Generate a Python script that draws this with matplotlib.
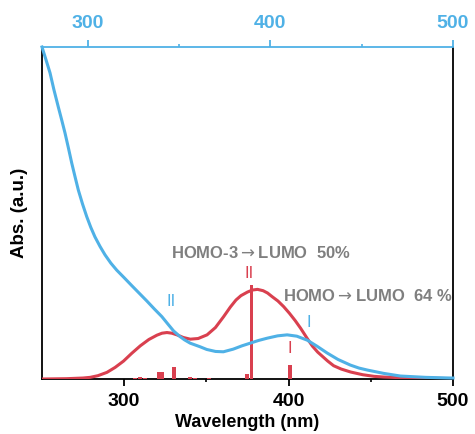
import matplotlib
matplotlib.use('Agg')
import matplotlib.pyplot as plt
from matplotlib.ticker import FixedLocator

plt.rcParams['font.family'] = ['Liberation Sans', 'DejaVu Sans']
plt.rcParams['mathtext.fontset'] = 'dejavusans'

# Calculated spectrum (bottom axis, nm) and normalized absorbance
calc_wl = [250, 265, 275, 279.3, 284, 289.5, 294.5, 299.6, 304.5, 309.8, 315, 319.9, 323,
           326.0, 329, 332.1, 336, 340.2, 345, 350.4, 355.5, 360.5, 364.6, 368, 371, 375,
           378, 381.1, 384.5, 387.2, 390, 393.5, 397, 400.5, 404, 407.3, 411.6, 414.5,
           417.7, 423.8, 427.4, 432, 437.8, 445, 452, 457.9, 468, 478.7, 490, 500]
calc_abs = [0.0, 0.001, 0.003, 0.005, 0.010, 0.020, 0.035, 0.054, 0.077, 0.100, 0.119, 0.132, 0.138,
            0.140, 0.138, 0.133, 0.125, 0.120, 0.122, 0.133, 0.155, 0.188, 0.217, 0.238, 0.251, 0.262,
            0.268, 0.270, 0.266, 0.259, 0.248, 0.235, 0.218, 0.198, 0.176, 0.153, 0.120, 0.099,
            0.081, 0.054, 0.040, 0.030, 0.021, 0.013, 0.008, 0.006, 0.004, 0.003, 0.002, 0.001]

# Oscillator strength sticks (bottom axis)
stick_wl = [306.7, 309.8, 312.8, 321.0, 323.2, 330.5, 340.2, 343.0, 351.5, 374.7, 377.5, 401.0]
stick_f = [0.004, 0.006, 0.004, 0.022, 0.020, 0.035, 0.006, 0.003, 0.002, 0.015, 0.283, 0.042]

# Experimental spectrum (top axis, nm)
exp_wl = [275.0, 277.0, 279.4, 281.5, 283.9, 285.8, 287.6, 289.5, 291.3, 293.1, 294.9, 297.2,
          299.5, 301.7, 304.0, 306.8, 309.5, 312.7, 315.9, 320.0, 324.2, 328.3, 332.4, 336.5,
          340.6, 344.0, 347.0, 350.5, 353.0, 356.1, 361.6, 365.2, 370.0, 374.3, 379.7, 384.5,
          389.0, 393.5, 398.3, 404.0, 409.2, 414.5, 420.2, 425.5, 431.2, 437.0, 443.8, 448.5,
          453.1, 462.0, 471.2, 485.0, 498.6, 500.0]
exp_abs = [1.000, 0.965, 0.922, 0.872, 0.820, 0.780, 0.741, 0.695, 0.650, 0.609, 0.569, 0.527,
           0.489, 0.457, 0.428, 0.399, 0.374, 0.349, 0.328, 0.305, 0.281, 0.258, 0.235, 0.211,
           0.188, 0.165, 0.145, 0.128, 0.118, 0.108, 0.097, 0.089, 0.083, 0.082, 0.090, 0.100,
           0.108, 0.116, 0.123, 0.130, 0.133, 0.129, 0.117, 0.099, 0.078, 0.059, 0.042, 0.033,
           0.027, 0.017, 0.009, 0.005, 0.003, 0.003]

bottom_ticks = [300, 400, 500]
top_ticks = [300, 400, 500]

blue = '#4FB1E6'
red = '#D9404F'
gray = '#7F7F7F'

fig = plt.figure(figsize=(4.75, 4.34), dpi=100)
ax = fig.add_axes([0.0884, 0.1267, 0.8653, 0.765])
ax.set_xlim(250, 500)
ax.set_ylim(0, 1)

ax.plot(calc_wl, calc_abs, color=red, lw=2.2, zorder=3)
ax.bar(stick_wl, stick_f, width=2.3, color=red, zorder=3)

ax.set_xticks(bottom_ticks)
ax.xaxis.set_minor_locator(FixedLocator([350, 450]))
ax.set_yticks([])
ax.tick_params(axis='x', which='major', direction='out', length=5, width=1.3, pad=5,
               labelsize=14, colors='black')
ax.tick_params(axis='x', which='minor', direction='out', length=2.5, width=1.2)
for lab in ax.get_xticklabels():
    lab.set_fontweight('bold')
for s in ['left', 'bottom', 'right']:
    ax.spines[s].set_linewidth(1.3)
    ax.spines[s].set_color('black')
ax.spines['top'].set_visible(False)

ax.set_xlabel('Wavelength (nm)', fontsize=13, fontweight='bold', labelpad=3)
ax.set_ylabel('Abs. (a.u.)', fontsize=13.5, fontweight='bold', labelpad=10)

ax2 = ax.twiny()
ax2.set_xlim(275, 500)
ax2.set_ylim(0, 1)
ax2.plot(exp_wl, exp_abs, color=blue, lw=2.2, zorder=4, clip_on=False)
ax2.set_xticks(top_ticks)
ax2.xaxis.set_minor_locator(FixedLocator([350, 450]))
ax2.tick_params(axis='x', which='major', direction='out', length=5, width=1.3, pad=6,
                labelsize=14, colors=blue)
ax2.tick_params(axis='x', which='minor', direction='out', length=2.5, width=1.2, colors=blue)
for lab in ax2.get_xticklabels():
    lab.set_fontweight('bold')
ax2.spines['top'].set_color(blue)
ax2.spines['top'].set_linewidth(1.3)
for s in ['left', 'bottom', 'right']:
    ax2.spines[s].set_visible(False)

# annotations (bottom-axis data coordinates)
ax.text(328.7, 0.381, r'HOMO-3$\rightarrow$LUMO  50%', color=gray, fontsize=12,
        fontweight='bold', ha='left', va='center', zorder=5)
ax.text(396.3, 0.250, r'HOMO$\rightarrow$LUMO  64 %', color=gray, fontsize=12,
        fontweight='bold', ha='left', va='center', zorder=5)
ax.text(376.2, 0.319, 'II', color=red, fontsize=12, ha='center', va='center', zorder=5)
ax.text(400.6, 0.093, 'I', color=red, fontsize=12, ha='center', va='center', zorder=5)
ax.text(328.7, 0.232, 'II', color=blue, fontsize=12, ha='center', va='center', zorder=5)
ax.text(412.2, 0.170, 'I', color=blue, fontsize=12, ha='center', va='center', zorder=5)

fig.savefig('out.png', dpi=100)
